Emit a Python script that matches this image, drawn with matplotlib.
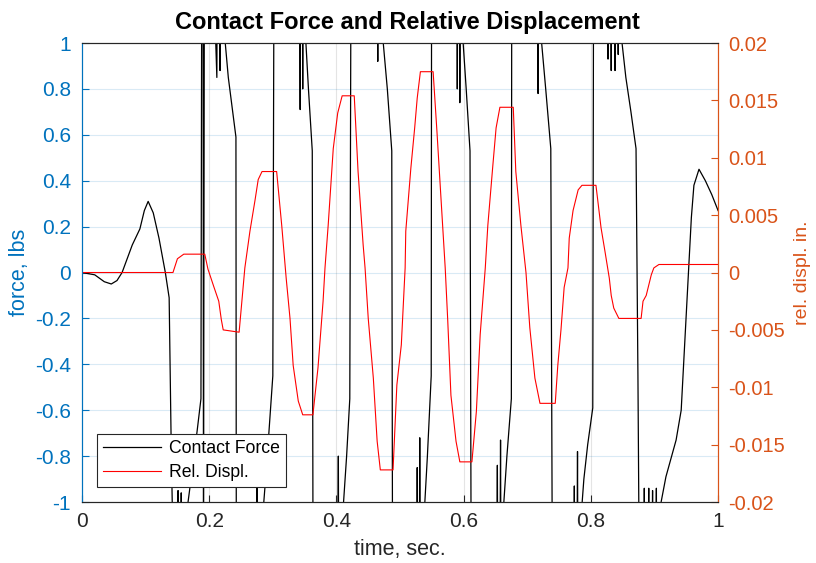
import matplotlib.pyplot as plt

# ===================== 全局配置 =====================
plt.rcParams['font.family'] = ['Liberation Sans', 'DejaVu Sans']
BLUE = '#0072BD'
ORANGE = '#D95319'
DARK = '#262626'

# ===================== 数据 =====================
# 相对位移 (右轴, in.)
displ_t = [0.000, 0.143, 0.150, 0.160, 0.193, 0.198, 0.207, 0.215, 0.219, 0.222, 0.247,
           0.256, 0.264, 0.272, 0.277, 0.283, 0.306, 0.314, 0.321, 0.327, 0.332, 0.340, 0.347,
           0.363, 0.371, 0.379, 0.382, 0.387, 0.395, 0.402, 0.409, 0.428, 0.434, 0.442, 0.445,
           0.450, 0.458, 0.464, 0.469, 0.489, 0.495, 0.502, 0.508, 0.509, 0.517, 0.523, 0.527,
           0.532, 0.552, 0.558, 0.564, 0.571, 0.575, 0.580, 0.588, 0.594, 0.613, 0.620, 0.626,
           0.634, 0.638, 0.646, 0.651, 0.657, 0.678, 0.682, 0.690, 0.698, 0.704, 0.712, 0.720,
           0.744, 0.748, 0.753, 0.758, 0.764, 0.766, 0.772, 0.780, 0.786, 0.808, 0.816, 0.822,
           0.829, 0.832, 0.836, 0.844, 0.879, 0.882, 0.887, 0.895, 0.899, 0.907, 1.000]
displ_v = [0.0, 0.0, 0.0012, 0.0016, 0.0016, 0.0003, -0.0012, -0.0025, -0.0041, -0.0050, -0.0052,
           0.0004, 0.0036, 0.0063, 0.0081, 0.0088, 0.0088, 0.0041, -0.0005, -0.0040, -0.0081, -0.0112, -0.0124,
           -0.0124, -0.0083, -0.0025, 0.0004, 0.0041, 0.0108, 0.0139, 0.0154, 0.0154, 0.0088, 0.0024, 0.0004,
           -0.0040, -0.0092, -0.0147, -0.0172, -0.0172, -0.0098, -0.0063, 0.0004, 0.0036, 0.0091, 0.0126, 0.0152,
           0.0175, 0.0175, 0.0123, 0.0068, 0.0004, -0.0042, -0.0107, -0.0147, -0.0165, -0.0165, -0.0121, -0.0054,
           0.0004, 0.0041, 0.0094, 0.0126, 0.0144, 0.0144, 0.0088, 0.0041, 0.0000, -0.0048, -0.0092, -0.0114,
           -0.0114, -0.0081, -0.0050, -0.0013, 0.0004, 0.0030, 0.0054, 0.0072, 0.0076, 0.0076, 0.0039, 0.0019,
           -0.0005, -0.0020, -0.0031, -0.0040, -0.0040, -0.0025, -0.0020, -0.0002, 0.0004, 0.0007, 0.0007]

# 接触力 (左轴, lbs)；超出 ±1 的部分被坐标轴截断
force_t = [0.000, 0.020, 0.035, 0.046, 0.055, 0.063, 0.079, 0.091, 0.098, 0.104, 0.112, 0.121,
           0.131, 0.137, 0.140, 0.145, 0.148, 0.151, 0.153, 0.156, 0.158, 0.162, 0.170, 0.181,
           0.187, 0.189, 0.190, 0.191, 0.193, 0.212, 0.214, 0.217, 0.219, 0.222, 0.230, 0.242,
           0.243, 0.273, 0.275, 0.277, 0.280, 0.283, 0.290, 0.300, 0.303,
           0.340, 0.343, 0.345, 0.347, 0.349, 0.350, 0.356, 0.362, 0.364,
           0.400, 0.403, 0.405, 0.408, 0.410, 0.416, 0.421, 0.424,
           0.462, 0.465, 0.467, 0.470, 0.472, 0.480, 0.487, 0.489,
           0.525, 0.527, 0.529, 0.531, 0.533, 0.536, 0.538, 0.543, 0.549, 0.550,
           0.588, 0.590, 0.592, 0.594, 0.596, 0.598, 0.604, 0.610, 0.613,
           0.650, 0.653, 0.655, 0.658, 0.660, 0.662, 0.668, 0.675, 0.676,
           0.714, 0.717, 0.719, 0.721, 0.729, 0.737, 0.741,
           0.772, 0.774, 0.776, 0.779, 0.781, 0.785, 0.789, 0.795, 0.803, 0.805,
           0.825, 0.827, 0.829, 0.832, 0.834, 0.838, 0.840, 0.843, 0.845, 0.847, 0.855, 0.863,
           0.871, 0.874, 0.879,
           0.883, 0.884, 0.886, 0.891, 0.893, 0.897, 0.899, 0.903, 0.905, 0.907, 0.918, 0.934,
           0.942, 0.947, 0.954, 0.958, 0.962, 0.970, 0.980, 0.990, 1.000]
force_v = [0.00, -0.01, -0.04, -0.05, -0.035, 0.00, 0.12, 0.19, 0.27, 0.31, 0.26, 0.15,
           0.00, -0.11, -0.71, -1.5, -2.5, -0.95, -2.5, -0.96, -2.5, -1.10, -0.93, -0.69,
           -0.55, 2.5, 2.5, -1.2, 2.5, 0.85, 2.5, 0.88, 2.5, 1.10, 0.85, 0.59,
           -2.5, -2.5, -0.93, -2.5, -2.5, -1.10, -0.85, -0.45, 2.5,
           2.5, 0.71, 2.5, 0.80, 2.5, 1.10, 0.80, 0.53, -2.5,
           -2.5, -0.80, -2.5, -2.5, -1.05, -0.80, -0.55, 2.5,
           2.5, 0.92, 2.5, 2.5, 1.05, 0.80, 0.53, -2.5,
           -2.5, -0.85, -2.5, -0.72, -2.5, -2.5, -1.05, -0.80, -0.45, 2.5,
           2.5, 0.80, 2.5, 0.74, 2.5, 1.05, 0.80, 0.53, -2.5,
           -2.5, -0.84, -2.5, -0.73, -2.5, -1.05, -0.80, -0.55, 2.5,
           2.5, 0.78, 2.5, 1.05, 0.80, 0.54, -2.5,
           -2.5, -0.93, -2.5, -0.78, -2.5, -1.05, -0.90, -0.75, -0.59, 2.5,
           2.5, 0.93, 2.5, 0.88, 2.5, 0.88, 2.5, 0.95, 2.5, 1.05, 0.85, 0.70,
           0.54, -0.45, -2.5,
           -2.5, -0.94, -2.5, -0.94, -2.5, -0.95, -2.5, -0.94, -2.5, -1.05, -0.89, -0.73,
           -0.60, -0.34, 0.02, 0.24, 0.38, 0.45, 0.40, 0.34, 0.27]

x_ticks = [0, 0.2, 0.4, 0.6, 0.8, 1]
x_labels = ['0', '0.2', '0.4', '0.6', '0.8', '1']
left_ticks = [-1, -0.8, -0.6, -0.4, -0.2, 0, 0.2, 0.4, 0.6, 0.8, 1]
left_labels = ['-1', '-0.8', '-0.6', '-0.4', '-0.2', '0', '0.2', '0.4', '0.6', '0.8', '1']
right_ticks = [-0.02, -0.015, -0.01, -0.005, 0, 0.005, 0.01, 0.015, 0.02]
right_labels = ['-0.02', '-0.015', '-0.01', '-0.005', '0', '0.005', '0.01', '0.015', '0.02']

# ===================== 绘图 =====================
fig = plt.figure(figsize=(8.16, 5.63), dpi=100)
ax = fig.add_axes([0.1005, 0.1083, 0.7795, 0.8153])
ax2 = ax.twinx()

line1, = ax.plot(force_t, force_v, color='black', linewidth=0.9, label='Contact Force')
line2, = ax2.plot(displ_t, displ_v, color='red', linewidth=0.8, label='Rel. Displ.')

ax.set_xlim(0, 1)
ax.set_ylim(-1, 1)
ax2.set_ylim(-0.02, 0.02)

ax.set_xticks(x_ticks)
ax.set_xticklabels(x_labels)
ax.set_yticks(left_ticks)
ax.set_yticklabels(left_labels)
ax2.set_yticks(right_ticks)
ax2.set_yticklabels(right_labels)

# 网格线：水平线浅蓝，竖线浅灰
for yv in left_ticks[1:-1]:
    ax.axhline(yv, color=BLUE, alpha=0.15, linewidth=0.8, zorder=0)
for xv in x_ticks[1:-1]:
    ax.axvline(xv, color=DARK, alpha=0.12, linewidth=0.8, zorder=0)

ax.tick_params(axis='x', direction='in', colors=DARK, labelsize=15, length=5, pad=7)
ax.tick_params(axis='y', direction='in', colors=BLUE, labelsize=15, length=5, pad=8)
ax2.tick_params(axis='y', direction='in', colors=ORANGE, labelsize=14.5, length=5, pad=7)

for a in (ax, ax2):
    a.spines['top'].set_color(DARK)
    a.spines['bottom'].set_color(DARK)
    a.spines['left'].set_color(BLUE)
    a.spines['right'].set_color(ORANGE)
    for s in a.spines.values():
        s.set_linewidth(0.8)

ax.set_xlabel('time, sec.', fontsize=15.5, color=DARK, labelpad=6)
ax.set_ylabel('force, lbs', fontsize=15.5, color=BLUE)
ax.yaxis.set_label_coords(-0.082, 0.5)
ax2.set_ylabel('rel. displ. in.', fontsize=14, color=ORANGE, rotation=90)
ax2.yaxis.set_label_coords(1.12, 0.5)
ax.set_title('Contact Force and Relative Displacement', fontsize=17, fontweight='bold',
             pad=10, x=0.512)

leg = ax2.legend([line1, line2], ['Contact Force', 'Rel. Displ.'], loc='lower left',
                 bbox_to_anchor=(0.0236, 0.0327), fontsize=12.7, handlelength=3.3,
                 fancybox=False, framealpha=1, borderpad=0.35, labelspacing=0.4,
                 handletextpad=0.45, borderaxespad=0)
leg.get_frame().set_edgecolor(DARK)
leg.get_frame().set_linewidth(0.8)

plt.savefig('out.png', dpi=100)
plt.close()
